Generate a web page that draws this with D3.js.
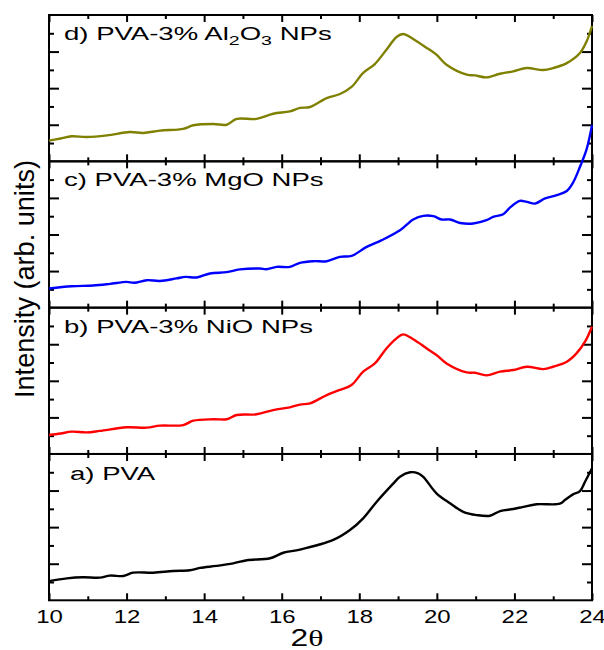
<!DOCTYPE html>
<html>
<head>
<meta charset="utf-8">
<script src="https://cdn.jsdelivr.net/npm/d3@7/dist/d3.min.js"></script>
<style>
  body { margin: 0; background: #fff; }
  svg { display: block; font-family: "Liberation Sans", Arial, sans-serif; }
</style>
</head>
<body>
<svg id="chart" width="604" height="650"></svg>
<script>
// XRD patterns, [2theta, intensity in panel units 0..8]
const pvaAl2O3 = [[10,1.13],[10.3,1.25],[10.58,1.37],[10.97,1.33],[11.5,1.42],[12.09,1.6],[12.43,1.55],[12.86,1.68],[13.46,1.77],[13.72,1.97],[14.24,2.04],[14.58,2.0],[14.84,2.32],[15.35,2.32],[15.78,2.6],[16.21,2.73],[16.47,2.92],[16.73,2.97],[17.16,3.46],[17.5,3.68],[17.8,4.07],[18.1,4.83],[18.4,5.32],[18.7,6.1],[18.96,6.8],[19.13,6.96],[19.39,6.69],[19.74,6.2],[19.99,5.83],[20.25,5.28],[20.77,4.74],[20.98,4.7],[21.28,4.59],[21.63,4.79],[21.97,4.92],[22.32,5.1],[22.74,4.99],[23.0,5.1],[23.35,5.37],[23.69,5.92],[23.86,6.55],[24,7.4]];
const pvaMgO = [[10,1.05],[10.58,1.17],[11.14,1.21],[11.57,1.3],[12.0,1.41],[12.2,1.36],[12.52,1.5],[12.86,1.46],[13.29,1.6],[13.52,1.68],[13.81,1.65],[14.15,1.87],[14.58,1.94],[14.92,2.09],[15.44,2.14],[15.6,2.1],[15.87,2.23],[16.21,2.23],[16.47,2.45],[16.81,2.54],[17.16,2.54],[17.5,2.78],[17.8,2.83],[18.19,3.32],[18.58,3.69],[19.05,4.23],[19.39,4.82],[19.65,5.02],[19.91,5.0],[20.12,4.82],[20.34,4.82],[20.6,4.63],[20.94,4.6],[21.28,4.78],[21.45,4.96],[21.71,5.11],[21.89,5.48],[22.14,5.84],[22.32,5.78],[22.53,5.69],[22.79,5.97],[23.09,6.15],[23.35,6.38],[23.52,6.87],[23.69,7.7],[23.86,8.65],[24,9.97]];
const pvaNiO = [[10,1.04],[10.3,1.12],[10.58,1.22],[10.97,1.18],[11.31,1.26],[12.0,1.46],[12.52,1.44],[12.86,1.55],[13.46,1.58],[13.72,1.82],[14.24,1.9],[14.58,1.9],[14.84,2.13],[15.35,2.17],[15.78,2.4],[16.21,2.55],[16.47,2.7],[16.73,2.77],[17.16,3.22],[17.5,3.5],[17.8,3.77],[18.1,4.5],[18.4,4.95],[18.7,5.77],[18.96,6.32],[19.13,6.54],[19.39,6.27],[19.74,5.77],[19.99,5.41],[20.25,4.95],[20.77,4.46],[20.98,4.44],[21.28,4.3],[21.63,4.5],[21.97,4.59],[22.32,4.77],[22.74,4.64],[23.0,4.77],[23.35,5.04],[23.6,5.5],[23.82,6.14],[24,6.96]];
const pva = [[10,1.05],[10.46,1.2],[10.88,1.26],[11.31,1.24],[11.57,1.35],[11.92,1.33],[12.17,1.51],[12.69,1.51],[13.2,1.6],[13.63,1.64],[13.89,1.77],[14.32,1.88],[14.75,2.02],[15.1,2.19],[15.7,2.3],[16.04,2.6],[16.47,2.77],[17.33,3.3],[17.76,3.84],[18.1,4.48],[18.45,5.39],[18.88,6.39],[19.05,6.76],[19.31,7.0],[19.52,6.94],[19.65,6.75],[19.99,5.85],[20.34,5.3],[20.68,4.84],[21.03,4.66],[21.37,4.62],[21.63,4.88],[21.97,4.99],[22.23,5.11],[22.57,5.25],[23.17,5.28],[23.3,5.48],[23.51,5.79],[23.69,5.97],[23.82,6.48],[24,7.21]];

// panels from top to bottom; label parts are [text, isSubscript]
const panelSeries = [pvaAl2O3, pvaMgO, pvaNiO, pva];
const panelColors = ["#808000", "#0000ff", "#ff0000", "#000000"];
const panelLabels = [
  [["d) PVA-3% Al", 0], ["2", 1], ["O", 0], ["3", 1], [" NPs", 0]],
  [["c) PVA-3% MgO NPs", 0]],
  [["b) PVA-3% NiO NPs", 0]],
  [["a) PVA", 0]]
];
const xMajorTicks = [10, 12, 14, 16, 18, 20, 22, 24];
const xMinorTicks = [11, 13, 15, 17, 19, 21, 23];
const yMajorTicks = [2, 4, 6];
const yMinorTicks = [1, 3, 5, 7];

// layout (note: "top" is taken by window.top, so prefix everything)
var plotLeft = 49, plotRight = 592, plotTop = 15, plotBottom = 600.3;
var panelH = (plotBottom - plotTop) / panelSeries.length;
var textStretch = 1.45; // text in the original is drawn wide

var svg = d3.select("#chart");
var x = d3.scaleLinear().domain([10, 24]).range([plotLeft, plotRight]);

var line = d3.line().curve(d3.curveCatmullRom.alpha(0.5));

panelSeries.forEach(function (data, i) {
  var pTop = plotTop + i * panelH, pBot = pTop + panelH;
  var y = d3.scaleLinear().domain([0, 8]).range([pBot, pTop]);
  var g = svg.append("g").attr("class", "panel");

  // inward ticks on all four sides (major and minor)
  function addAxis(axis, tx, ty) {
    var a = g.append("g").attr("transform", "translate(" + tx + "," + ty + ")").call(axis);
    a.select(".domain").remove();
    a.selectAll("line").attr("stroke", "#000").attr("stroke-width", 2);
    return a;
  }
  addAxis(d3.axisBottom(x).tickValues(xMajorTicks).tickSize(7).tickFormat(""), 0, pTop);
  addAxis(d3.axisBottom(x).tickValues(xMinorTicks).tickSize(4).tickFormat(""), 0, pTop);
  addAxis(d3.axisTop(x).tickValues(xMajorTicks).tickSize(7).tickFormat(""), 0, pBot);
  addAxis(d3.axisTop(x).tickValues(xMinorTicks).tickSize(4).tickFormat(""), 0, pBot);
  addAxis(d3.axisRight(y).tickValues(yMajorTicks).tickSize(10).tickFormat(""), plotLeft, 0);
  addAxis(d3.axisRight(y).tickValues(yMinorTicks).tickSize(5).tickFormat(""), plotLeft, 0);
  addAxis(d3.axisLeft(y).tickValues(yMajorTicks).tickSize(10).tickFormat(""), plotRight, 0);
  addAxis(d3.axisLeft(y).tickValues(yMinorTicks).tickSize(5).tickFormat(""), plotRight, 0);

  // frame
  g.append("rect").attr("x", plotLeft).attr("y", pTop)
    .attr("width", plotRight - plotLeft).attr("height", panelH)
    .attr("fill", "none").attr("stroke", "#000").attr("stroke-width", 2);

  // curve (not clipped, the MgO one runs into the panel above)
  svg.append("path").datum(data)
    .attr("d", line.x(function (d) { return x(d[0]); }).y(function (d) { return y(d[1]); }))
    .attr("fill", "none").attr("stroke", panelColors[i])
    .attr("stroke-width", 2.4).attr("stroke-linejoin", "round");

  // panel label
  var lx = i === 3 ? 70 : 64, ly = pTop + (i === 3 ? 26 : 25);
  var t = svg.append("text").attr("font-size", 19).attr("fill", "#000")
    .attr("transform", "translate(" + lx + "," + ly + ") scale(" + textStretch + ",1)");
  var shifted = 0;
  panelLabels[i].forEach(function (p) {
    var dy = p[1] ? 5 - shifted : -shifted;
    shifted += dy;
    t.append("tspan").text(p[0]).attr("dy", dy).attr("font-size", p[1] ? 13.5 : 19);
  });
});

// x tick labels under the bottom panel
var xl = svg.append("g").attr("transform", "translate(0," + plotBottom + ")")
  .call(d3.axisBottom(x).tickValues(xMajorTicks).tickSize(0).tickPadding(10).tickFormat(d3.format("d")));
xl.select(".domain").remove();
xl.selectAll("text").attr("font-size", 17.5).attr("font-family", "Liberation Sans, Arial, sans-serif")
  .attr("fill", "#000").attr("transform", "scale(1.37,1)");

// x axis title
var xt = svg.append("text").attr("text-anchor", "middle").attr("font-size", 23)
  .attr("transform", "translate(307,646) scale(1.38,1)");
xt.append("tspan").text("2");
xt.append("tspan").text("θ").attr("font-family", "Liberation Serif, Times New Roman, serif");

// y axis title
svg.append("text").attr("text-anchor", "middle").attr("font-size", 28)
  .attr("transform", "translate(34,279) rotate(-90)")
  .attr("textLength", 238).attr("lengthAdjust", "spacingAndGlyphs")
  .text("Intensity (arb. units)");
</script>
</body>
</html>
